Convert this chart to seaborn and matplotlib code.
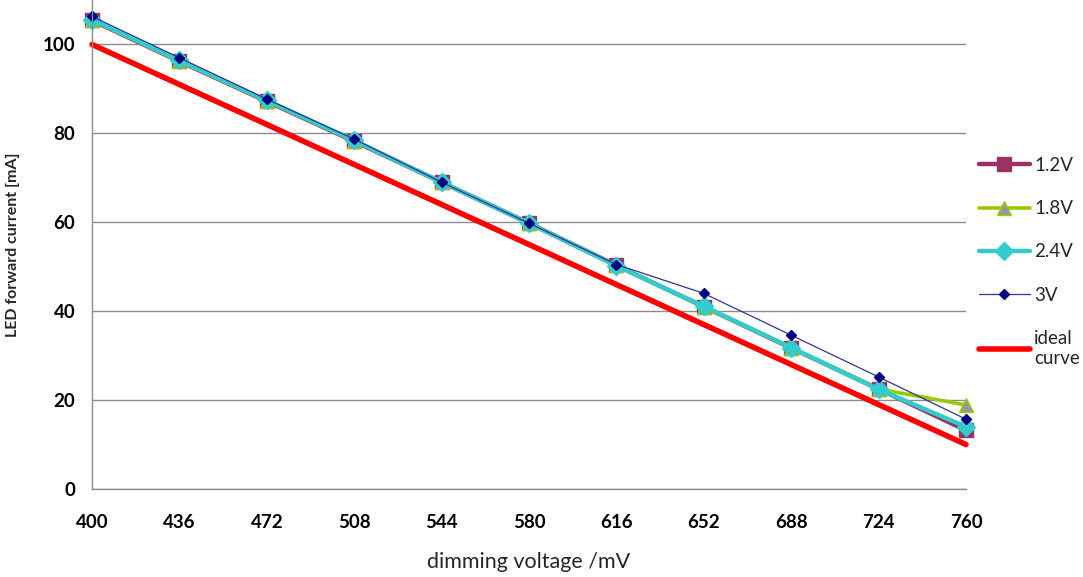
import matplotlib
matplotlib.use("Agg")
import matplotlib.pyplot as plt
import seaborn as sns
import pandas as pd

voltage_mv = [400, 436, 472, 508, 544, 580, 616, 652, 688, 724, 760]
current_12v = [105.4, 96.2, 87.2, 78.2, 69.0, 59.8, 50.3, 41.0, 31.7, 22.5, 13.2]
current_18v = [105.5, 96.3, 87.3, 78.3, 69.0, 59.8, 50.3, 41.0, 31.8, 22.5, 18.9]
current_24v = [105.6, 96.4, 87.4, 78.4, 69.0, 59.8, 50.2, 41.1, 31.8, 22.4, 14.0]
current_3v = [106.3, 97.0, 87.7, 78.7, 69.0, 59.8, 50.5, 44.0, 34.6, 25.2, 15.7]
ideal_curve = [100, 91, 82, 73, 64, 55, 46, 37, 28, 19, 10]

sns.set_theme(style="white")
plt.rcParams["font.family"] = ["Lato", "DejaVu Sans"]

df = pd.DataFrame({
    "voltage": voltage_mv,
    "1.2V": current_12v,
    "1.8V": current_18v,
    "2.4V": current_24v,
    "3V": current_3v,
    "ideal\ncurve": ideal_curve,
})

styles = {
    "1.2V": dict(color="#993366", lw=3.2, marker="s", ms=10, mfc="#993366", mec="#993366"),
    "1.8V": dict(color="#99CC00", lw=2.6, marker="^", ms=10, mfc="#999999", mec="#99CC00"),
    "2.4V": dict(color="#33CCCC", lw=3.2, marker="D", ms=9, mfc="#33CCCC", mec="#33CCCC"),
    "3V": dict(color="#333399", lw=0.9, marker="D", ms=5.5, mfc="#000080", mec="#000080"),
    "ideal\ncurve": dict(color="#FF0000", lw=4.0, marker=None),
}

fig = plt.figure(figsize=(10.83, 5.77), dpi=100)
ax = fig.add_axes([92 / 1083, 1 - 489 / 577, 874 / 1083, 489 / 577])

for name, st in styles.items():
    sns.lineplot(data=df, x="voltage", y=name, ax=ax, label=name,
                 color=st["color"], linewidth=st["lw"], marker=st["marker"],
                 markersize=st.get("ms", 0), markerfacecolor=st.get("mfc"),
                 markeredgecolor=st.get("mec"), markeredgewidth=1.0,
                 clip_on=False)

ax.set_xlim(400, 760)
ax.set_ylim(0, 110)
ax.set_xticks(voltage_mv)
ax.set_yticks([0, 20, 40, 60, 80, 100])
ax.yaxis.grid(True, color="#8c8c8c", linewidth=1.0)
ax.set_axisbelow(True)
for side in ["top", "right"]:
    ax.spines[side].set_visible(False)
for side in ["left", "bottom"]:
    ax.spines[side].set_color("#8c8c8c")
    ax.spines[side].set_linewidth(1.0)
ax.tick_params(axis="both", which="both", direction="out", length=5,
               color="#8c8c8c", labelsize=13.5, colors="#8c8c8c", labelcolor="black")
ax.tick_params(axis="x", pad=13)
ax.tick_params(axis="y", pad=7)
for lbl in ax.get_xticklabels() + ax.get_yticklabels():
    lbl.set_fontweight("bold")

ax.set_xlabel("dimming voltage /mV", fontsize=15.5, labelpad=15)
ax.set_ylabel("LED forward current [mA]", fontsize=11.5, fontweight="bold", labelpad=16)

leg = ax.legend(loc="upper left", bbox_to_anchor=(979 / 1083, 1 - 157 / 577),
                bbox_transform=fig.transFigure, frameon=False, fontsize=13.5,
                labelspacing=1.4, handlelength=2.7, handletextpad=0.25,
                borderaxespad=0, borderpad=0)

fig.savefig("out.png", dpi=100)
